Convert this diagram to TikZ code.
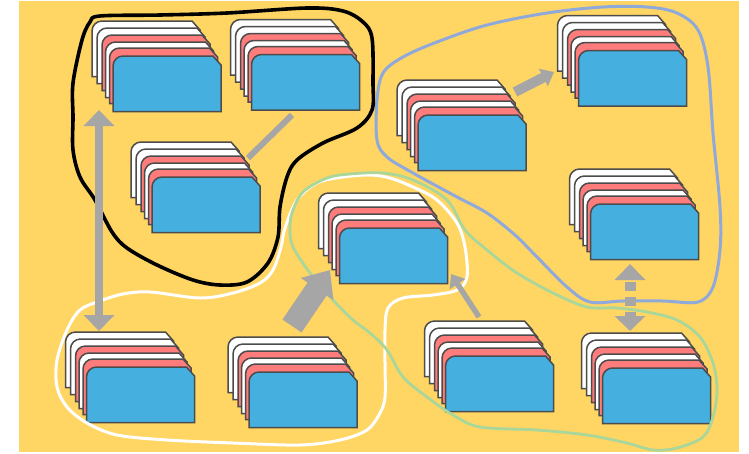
\documentclass[tikz,border=0pt]{standalone}
\usetikzlibrary{arrows.meta}
\definecolor{sandbg}{HTML}{FFD563}
\definecolor{cardred}{HTML}{FF7C7C}
\definecolor{cardblue}{HTML}{45B0E0}
\definecolor{arrowgray}{HTML}{A6A6A6}
\definecolor{loopgreen}{HTML}{A9D69A}
\definecolor{loopblue}{HTML}{8FA9DB}
\begin{document}
\begin{tikzpicture}[
        x=1pt, y=-1pt,
        card/.style={draw=black!70, line width=1.5pt},
        stackbox/.style={minimum width=108pt, minimum height=56pt, inner sep=0pt},
        grouploop/.style={line width=3pt, line cap=round, line join=round},
        flow/.style={draw=arrowgray, line width=#1}
        ]
      \useasboundingbox (0,0) rectangle (749,453);
      \fill[sandbg] (19,1) rectangle (739,452);

      % card stacks, given by the top left corner of the front card
      \foreach \nm/\px/\py in {s1/113/56, s2/251.5/54.5, s3/152/177, s4/339.5/228, s5/418/115,
          s6/578.5/50.5, s7/590.5/204, s8/86.5/367, s9/249/372, s10/445.5/356, s11/602.5/368} {
        \begin{scope}[shift={(\px,\py)}]
          \foreach \dx/\dy/\col in {-21/-35/white, -16/-28/white, -11/-21/cardred,
              -7.5/-14/white, -3.5/-8/cardred, 0/0/cardblue} {
            \draw[card, fill=\col] (\dx,\dy+55.5) -- (\dx,\dy+10)
              .. controls (\dx,\dy+4.5) and (\dx+4.5,\dy) .. (\dx+10,\dy)
              -- (\dx+100,\dy) -- (\dx+108,\dy+9) -- (\dx+108,\dy+55.5) -- cycle;
          }
          \node[stackbox] (\nm) at (54,28) {};
        \end{scope}
      }

      % hand drawn groups
      \draw[grouploop, white] plot[smooth cycle, tension=0.55] coordinates {
        (80,310) (100,301) (123,294) (150,292) (200,298) (233,293) (260,283) (273,270)
        (281,247) (285,228) (297,200) (317,183) (343,177) (370,175) (390,178) (413,187)
        (437,200) (457,223) (465,247) (467,277) (457,290) (433,295) (403,298) (388,308)
        (385,330) (385,363) (385,397) (380,413) (367,430) (340,440) (300,445) (233,443)
        (167,440) (117,435) (87,423) (67,407) (57,387) (57,360) (67,330)};
      \draw[grouploop, loopgreen, line width=2.8pt] plot[smooth cycle, tension=0.55] coordinates {
        (290,230) (293,247) (310,273) (333,300) (353,320) (370,333) (387,350) (403,377)
        (427,397) (453,415) (480,427) (537,430) (587,435) (627,443) (653,450) (677,448)
        (703,437) (713,417) (717,390) (713,363) (700,337) (677,320) (647,312) (617,308)
        (587,307) (553,293) (517,273) (487,250) (465,230) (447,200) (413,180) (383,173)
        (350,174) (327,178) (303,192) (292,213)};
      \draw[grouploop, loopblue] plot[smooth cycle, tension=0.55] coordinates {
        (377,100) (383,73) (403,57) (437,42) (487,25) (547,13) (603,7) (647,7) (677,13)
        (698,30) (708,67) (713,133) (720,207) (720,250) (713,287) (698,302) (663,301)
        (623,301) (590,302) (567,287) (537,257) (515,235) (487,213) (457,197) (413,173)
        (387,157) (377,140)};
      \draw[grouploop, black, line width=3.6pt] plot[smooth cycle, tension=0.55] coordinates {
        (100,16) (160,15) (227,13) (307,8) (343,11) (363,22) (372,38) (373,83) (372,110)
        (357,128) (323,143) (297,160) (287,177) (280,207) (278,237) (268,263) (247,282)
        (220,285) (193,280) (157,265) (127,248) (112,232) (95,200) (80,177) (73,150)
        (73,117) (73,83) (82,40) (90,22)};

      % free ends of the gray connectors
      \coordinate (a1) at (99,110);
      \coordinate (a2) at (99,331);
      \coordinate (b1) at (292,115);
      \coordinate (b2) at (248,158);
      \coordinate (c1) at (515,92);
      \coordinate (c2) at (554,72);
      \coordinate (d1) at (292,326);
      \coordinate (d2) at (330,270);
      \coordinate (e1) at (479,317);
      \coordinate (e2) at (451,274);
      \coordinate (f1) at (630,264);
      \coordinate (f2) at (630,331);

      \draw[flow=8pt, {Triangle[width=30pt,length=16pt]}-{Triangle[width=30pt,length=16pt]}] (a1) -- (a2);
      \draw[flow=6pt] (b1) -- (b2);
      \draw[flow=10pt, -{Triangle[width=19pt,length=12pt]}] (c1) -- (c2);
      \draw[flow=23pt, -{Triangle[width=38pt,length=23pt]}] (d1) -- (d2);
      \draw[flow=5.5pt, -{Triangle[width=18pt,length=12pt]}] (e1) -- (e2);
      \draw[flow=11pt, dash pattern=on 9pt off 6pt, dash phase=12pt,
        {Triangle[width=30pt,length=16pt]}-{Triangle[width=30pt,length=15pt]}] (f1) -- (f2);
    \end{tikzpicture}
\end{document}
